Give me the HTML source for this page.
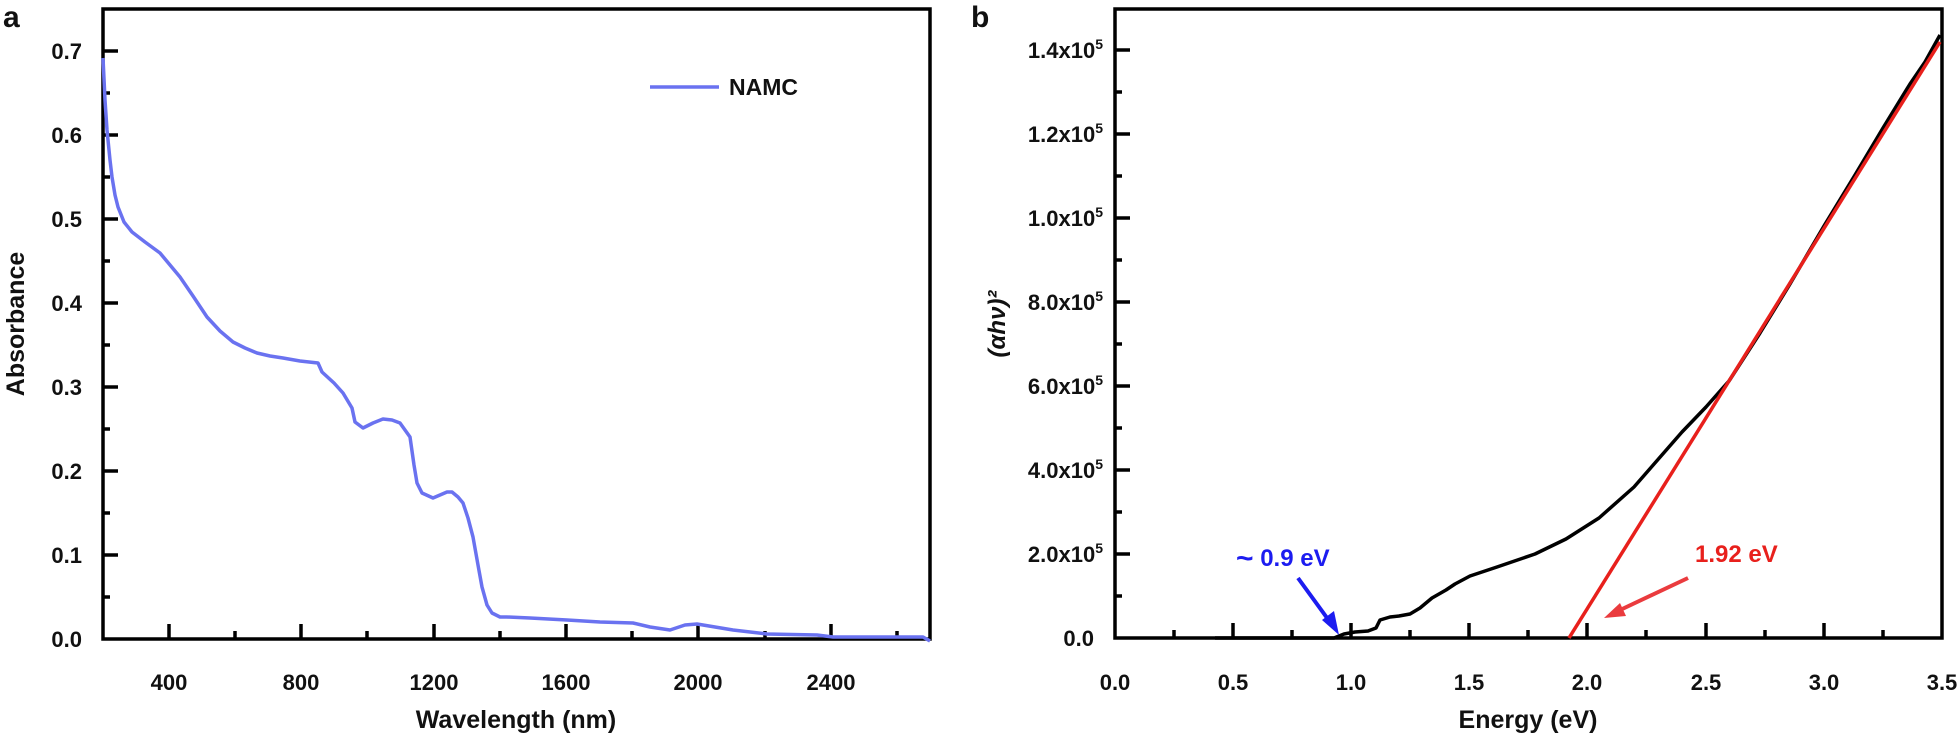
<!DOCTYPE html>
<html><head><meta charset="utf-8"><style>
html,body{margin:0;padding:0;background:#fff}
svg{display:block}
text{font-family:"Liberation Sans",Arial,sans-serif;font-weight:bold;fill:#111}
</style></head><body>
<svg width="1959" height="738" viewBox="0 0 1959 738" xmlns="http://www.w3.org/2000/svg">
<!-- Panel a -->
<text x="3" y="27" font-size="30">a</text>
<rect x="103" y="9" width="827" height="630" fill="none" stroke="#000" stroke-width="3.5"/>
<g stroke="#000" stroke-width="3.5">
<line x1="103" y1="51" x2="118" y2="51"/><line x1="103" y1="93" x2="110" y2="93"/>
<line x1="103" y1="135" x2="118" y2="135"/><line x1="103" y1="177" x2="110" y2="177"/>
<line x1="103" y1="219" x2="118" y2="219"/><line x1="103" y1="261" x2="110" y2="261"/>
<line x1="103" y1="303" x2="118" y2="303"/><line x1="103" y1="345" x2="110" y2="345"/>
<line x1="103" y1="387" x2="118" y2="387"/><line x1="103" y1="429" x2="110" y2="429"/>
<line x1="103" y1="471" x2="118" y2="471"/><line x1="103" y1="513" x2="110" y2="513"/>
<line x1="103" y1="555" x2="118" y2="555"/><line x1="103" y1="597" x2="110" y2="597"/>
<line x1="169" y1="639" x2="169" y2="624"/><line x1="235" y1="639" x2="235" y2="631"/>
<line x1="301" y1="639" x2="301" y2="624"/><line x1="367" y1="639" x2="367" y2="631"/>
<line x1="434" y1="639" x2="434" y2="624"/><line x1="500" y1="639" x2="500" y2="631"/>
<line x1="566" y1="639" x2="566" y2="624"/><line x1="632" y1="639" x2="632" y2="631"/>
<line x1="698" y1="639" x2="698" y2="624"/><line x1="765" y1="639" x2="765" y2="631"/>
<line x1="831" y1="639" x2="831" y2="624"/><line x1="897" y1="639" x2="897" y2="631"/>
</g>
<g font-size="22" text-anchor="end">
<text x="82" y="59">0.7</text><text x="82" y="143">0.6</text><text x="82" y="227">0.5</text>
<text x="82" y="311">0.4</text><text x="82" y="395">0.3</text><text x="82" y="479">0.2</text>
<text x="82" y="563">0.1</text><text x="82" y="647">0.0</text>
</g>
<g font-size="22" text-anchor="middle">
<text x="169" y="690">400</text><text x="301" y="690">800</text><text x="434" y="690">1200</text>
<text x="566" y="690">1600</text><text x="698" y="690">2000</text><text x="831" y="690">2400</text>
</g>
<text x="516" y="728" font-size="25" text-anchor="middle">Wavelength (nm)</text>
<text transform="translate(24,324) rotate(-90)" font-size="25" text-anchor="middle">Absorbance</text>
<polyline fill="none" stroke="#6a72f0" stroke-width="3.5" stroke-linejoin="round" points="103,58 105,100 107,130 110,160 112,177 115,195 118,207 124,222 132,232 145,242 160,253 170,265 180,277 193,296 207,317 220,331 233,342 245,348 257,353 270,356 283,358 300,361 318,363 322,372 334,383 343,393 352,408 355,422 363,428 373,423 383,419 392,420 400,423 410,437 414,465 417,483 422,493 433,498 440,495 447,492 452,492 458,497 463,503 468,518 473,537 478,565 482,587 487,605 492,613 500,617 507,617 530,618 567,620 600,622 633,623 650,627 670,630 685,625 697,624 715,627 733,630 767,634 817,635 833,637 923,637 930,641"/>
<line x1="650" y1="87" x2="719" y2="87" stroke="#6a72f0" stroke-width="3.5"/>
<text x="729" y="95" font-size="23">NAMC</text>

<!-- Panel b -->
<text x="971" y="27" font-size="30">b</text>
<rect x="1115" y="9" width="827" height="629" fill="none" stroke="#000" stroke-width="3.5"/>
<g stroke="#000" stroke-width="3.5">
<line x1="1115" y1="50" x2="1130" y2="50"/><line x1="1115" y1="92" x2="1122" y2="92"/>
<line x1="1115" y1="134" x2="1130" y2="134"/><line x1="1115" y1="176" x2="1122" y2="176"/>
<line x1="1115" y1="218" x2="1130" y2="218"/><line x1="1115" y1="260" x2="1122" y2="260"/>
<line x1="1115" y1="302" x2="1130" y2="302"/><line x1="1115" y1="344" x2="1122" y2="344"/>
<line x1="1115" y1="386" x2="1130" y2="386"/><line x1="1115" y1="428" x2="1122" y2="428"/>
<line x1="1115" y1="470" x2="1130" y2="470"/><line x1="1115" y1="512" x2="1122" y2="512"/>
<line x1="1115" y1="554" x2="1130" y2="554"/><line x1="1115" y1="596" x2="1122" y2="596"/>
<line x1="1174" y1="638" x2="1174" y2="630"/><line x1="1233" y1="638" x2="1233" y2="623"/>
<line x1="1292" y1="638" x2="1292" y2="630"/><line x1="1351" y1="638" x2="1351" y2="623"/>
<line x1="1410" y1="638" x2="1410" y2="630"/><line x1="1469" y1="638" x2="1469" y2="623"/>
<line x1="1528" y1="638" x2="1528" y2="630"/><line x1="1587" y1="638" x2="1587" y2="623"/>
<line x1="1646" y1="638" x2="1646" y2="630"/><line x1="1706" y1="638" x2="1706" y2="623"/>
<line x1="1765" y1="638" x2="1765" y2="630"/><line x1="1824" y1="638" x2="1824" y2="623"/>
<line x1="1883" y1="638" x2="1883" y2="630"/>
</g>
<g font-size="22" text-anchor="end">
<text x="1103" y="58">1.4x10<tspan font-size="14" dy="-9">5</tspan></text>
<text x="1103" y="142">1.2x10<tspan font-size="14" dy="-9">5</tspan></text>
<text x="1103" y="226">1.0x10<tspan font-size="14" dy="-9">5</tspan></text>
<text x="1103" y="310">8.0x10<tspan font-size="14" dy="-9">5</tspan></text>
<text x="1103" y="394">6.0x10<tspan font-size="14" dy="-9">5</tspan></text>
<text x="1103" y="478">4.0x10<tspan font-size="14" dy="-9">5</tspan></text>
<text x="1103" y="562">2.0x10<tspan font-size="14" dy="-9">5</tspan></text>
<text x="1094" y="646">0.0</text>
</g>
<g font-size="22" text-anchor="middle">
<text x="1115" y="690">0.0</text><text x="1233" y="690">0.5</text><text x="1351" y="690">1.0</text>
<text x="1469" y="690">1.5</text><text x="1587" y="690">2.0</text><text x="1706" y="690">2.5</text>
<text x="1824" y="690">3.0</text><text x="1942" y="690">3.5</text>
</g>
<text x="1528" y="728" font-size="25" text-anchor="middle">Energy (eV)</text>
<text transform="translate(1005,324) rotate(-90)" font-size="24" text-anchor="middle" font-style="italic">(αhν)²</text>
<polyline fill="none" stroke="#000" stroke-width="3.5" stroke-linejoin="round" points="1215,638 1334,638 1344,634 1355,632 1368,631 1376,628 1380,620 1390,617 1399,616 1410,614 1420,608 1432,598 1446,590 1455,584 1470,576 1497,567 1535,554 1566,539 1599,518 1634,487 1682,432 1706,407 1729,381 1760,333 1790,284 1824,226 1855,175 1883,128 1910,84 1925,62 1940,35"/>
<line x1="1569" y1="638" x2="1940" y2="42" stroke="#e8201c" stroke-width="3.5"/>
<text x="1236" y="566" font-size="24" style="fill:#1c1cf0"><tspan font-size="30" dy="2">~</tspan><tspan dy="-2"> 0.9 eV</tspan></text>
<line x1="1298" y1="578" x2="1330" y2="622" stroke="#1c1cf0" stroke-width="4"/>
<polygon points="1339,635 1322,620 1334,611" fill="#1c1cf0"/>
<text x="1695" y="562" font-size="24" style="fill:#e8201c">1.92 eV</text>
<line x1="1688" y1="578" x2="1618" y2="611" stroke="#ea3b3e" stroke-width="4"/>
<polygon points="1604,618 1620,603 1626,616" fill="#ea3b3e"/>
</svg>
</body></html>
